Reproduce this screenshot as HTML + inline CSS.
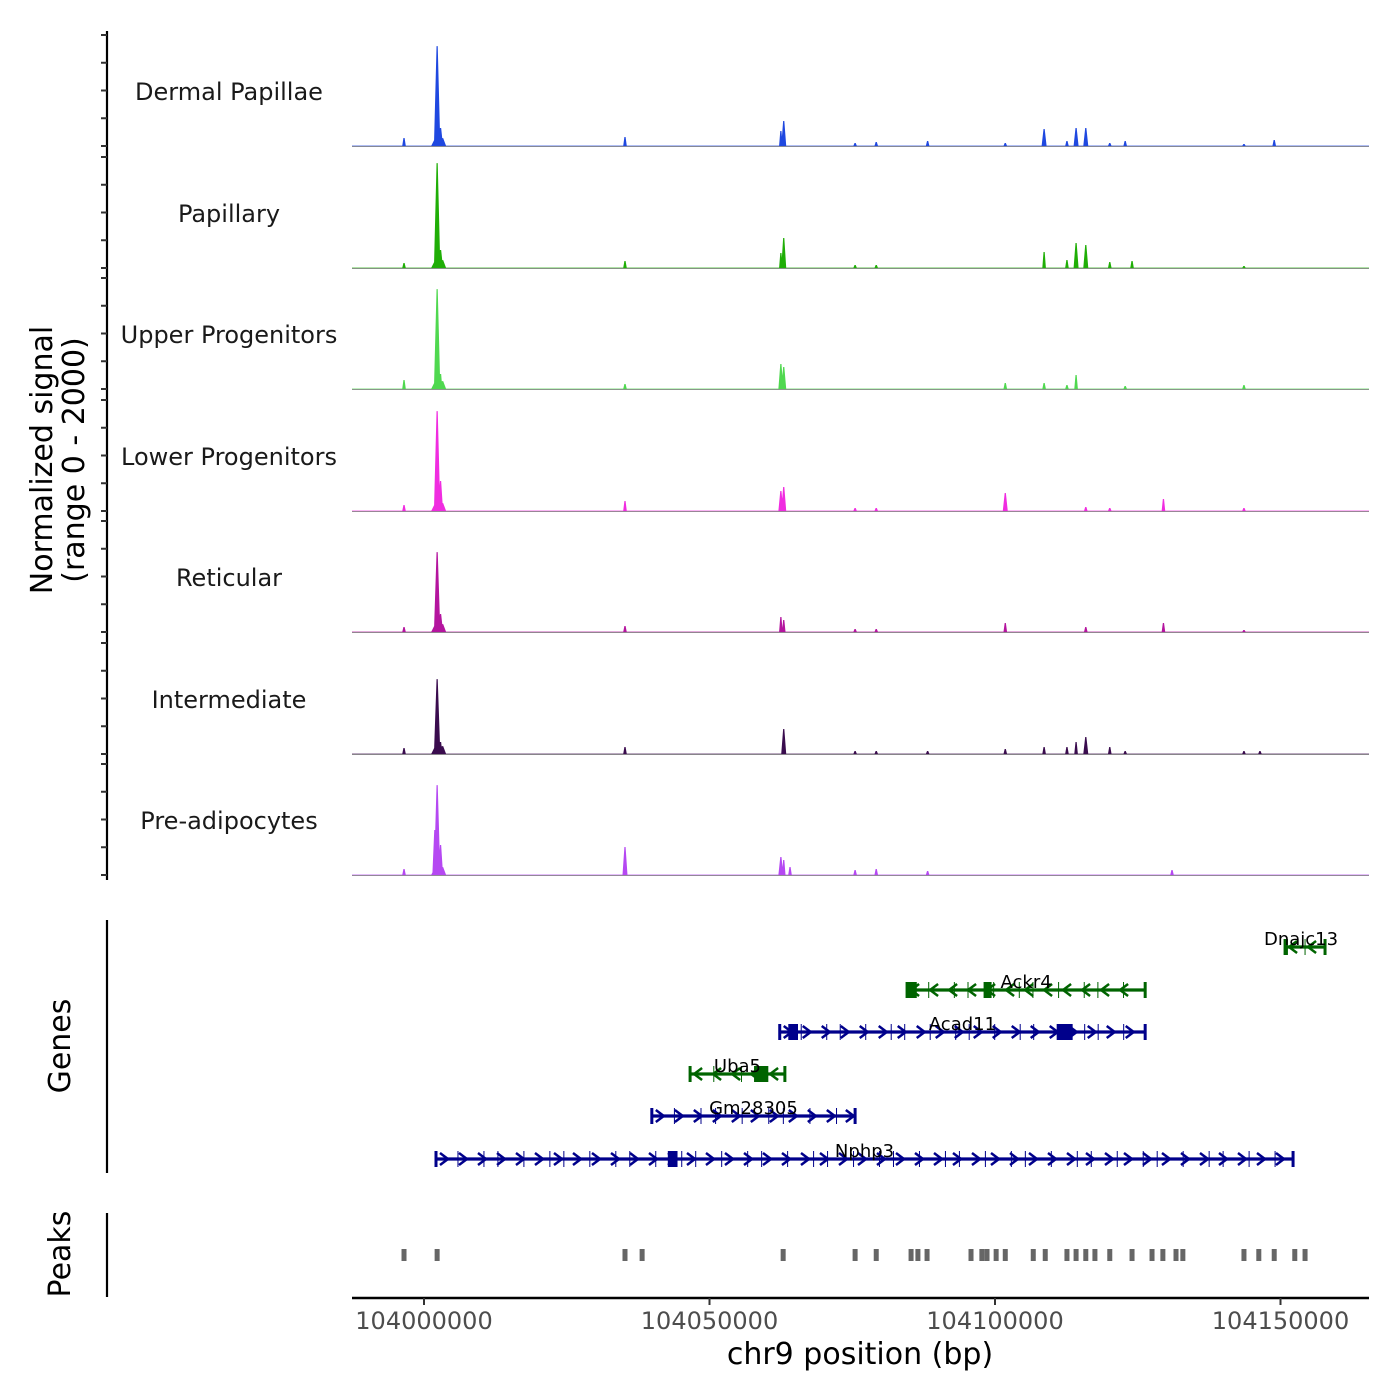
<!DOCTYPE html>
<html><head><meta charset="utf-8">
<style>
html,body{margin:0;padding:0;background:#fff;}
svg{display:block;font-family:"DejaVu Sans","Liberation Sans",sans-serif;}
</style></head>
<body>
<svg id="chart" width="1400" height="1400" viewBox="0 0 1400 1400" xmlns="http://www.w3.org/2000/svg">
<rect width="1400" height="1400" fill="#fff"/>
<g id="g"></g>
</svg>
<script>
// ---------- data ----------
const trackNames = ["Dermal Papillae","Papillary","Upper Progenitors","Lower Progenitors","Reticular","Intermediate","Pre-adipocytes"];
const trackColors = ["#1f48e0","#1fae06","#4fd84f","#f02ce0","#b4149e","#3a0c4e","#b548f2"];
const peakPos = [103996500,104001900,104002300,104002900,104035200,104062500,104063000,104064100,104075500,104079200,104088200,104101800,104108600,104112600,104114200,104115900,104120100,104122800,104124000,104129500,104131000,104143600,104146400,104148900];
const sigDermal = [144,0,1800,324,162,270,450,0,54,72,90,54,306,90,324,324,54,90,0,0,0,36,0,108];
const sigPapillary = [90,0,1890,324,126,270,540,0,54,54,0,0,288,144,450,414,108,0,126,0,0,36,0,0];
const sigUpper = [162,0,1800,270,90,450,396,0,0,0,0,108,108,72,252,0,0,54,0,0,0,72,0,0];
const sigLower = [108,0,1800,540,180,360,432,0,54,54,0,324,0,0,0,72,54,0,0,216,0,54,0,0];
const sigReticular = [90,0,1440,324,108,270,216,0,54,54,0,162,0,0,0,90,0,0,0,162,0,36,0,0];
const sigIntermediate = [108,0,1350,216,126,0,450,0,54,54,54,90,126,126,216,306,126,54,0,0,0,54,54,0];
const sigPreadipo = [108,810,1620,540,504,324,270,144,90,108,72,0,0,0,0,0,0,0,0,0,90,0,0,0];
const trackSignals = [sigDermal,sigPapillary,sigUpper,sigLower,sigReticular,sigIntermediate,sigPreadipo];

const geneNames = ["Dnajc13","Ackr4","Acad11","Uba5","Gm28305","Nphp3"];
const geneStart = [104150800,104084600,104062300,104046600,104039900,104002100];
const geneEnd = [104157800,104126300,104126300,104063200,104075500,104152200];
const geneStrand = [-1,-1,1,-1,1,1];
const geneBigExonStart = [104150800,104084600,104063800,104057800,0,104042700];
const geneBigExonEnd = [104151300,104086300,104065500,104060300,0,104044400];
const geneBigExon2Start = [0,104098000,104110800,0,0,0];
const geneBigExon2End = [0,104099400,104113600,0,0,0];

const atacPeaks = [103996500,104002300,104035200,104038200,104062900,104075500,104079200,104085300,104086500,104088100,104095800,104097700,104098600,104100200,104101800,104106700,104108800,104112600,104114200,104115900,104117500,104120100,104124000,104127500,104129400,104131700,104132900,104143600,104146200,104148900,104152500,104154300];

const xTicks = [104000000,104050000,104100000,104150000];

// ---------- scales ----------
const NS="http://www.w3.org/2000/svg";
const g=document.getElementById('g');
const X0=352, X1=1369;
function xs(bp){return 424+(bp-104000000)/50000*285.5;}
const baseY=[146,268,389,511,632,754,875];
const panelH=111;
function ys(i,v){return baseY[i]-v/2000*panelH;}
function el(tag,attrs,parent){const e=document.createElementNS(NS,tag);for(const k in attrs)e.setAttribute(k,attrs[k]);(parent||g).appendChild(e);return e;}

// ---------- left axes ----------
let a=el('line',{x1:107,y1:31,x2:107,y2:880,stroke:'#000','stroke-width':2.2});


for(let i=0;i<7;i++){
  for(let k=0;k<=4;k++){
    const y=ys(i,k*500);
    const t=el('line',{x1:101,y1:y,x2:107,y2:y,stroke:'#333','stroke-width':2});
    
    
  }
}
a=el('line',{x1:107,y1:920,x2:107,y2:1173,stroke:'#000','stroke-width':2.2});


a=el('line',{x1:107,y1:1213,x2:107,y2:1297,stroke:'#000','stroke-width':2.2});



let tt=el('text',{transform:'translate(52,460) rotate(-90)','text-anchor':'middle','font-size':30,fill:'#000'});
tt.textContent='Normalized signal';


tt=el('text',{transform:'translate(84,460) rotate(-90)','text-anchor':'middle','font-size':30,fill:'#000'});
tt.textContent='(range 0 - 2000)';


tt=el('text',{transform:'translate(70,1046) rotate(-90)','text-anchor':'middle','font-size':30,fill:'#000'});
tt.textContent='Genes';


tt=el('text',{transform:'translate(70,1254) rotate(-90)','text-anchor':'middle','font-size':30,fill:'#000'});
tt.textContent='Peaks';



// ---------- coverage tracks ----------
for(let i=0;i<7;i++){
  const lab=el('text',{x:229,y:baseY[i]-46,'text-anchor':'middle','font-size':24,fill:'#1a1a1a'});
  lab.textContent=trackNames[i];
  
  
  const sig=trackSignals[i];
  let d='';
  for(let j=0;j<peakPos.length;j++){
    if(!sig[j])continue;
    const x=xs(peakPos[j]);const y=ys(i,sig[j]);
    const w=sig[j]>1000?3.2:(sig[j]>300?2.5:1.8);
    d+=`M${x-w},${baseY[i]} L${x-0.6},${y} L${x+0.6},${y} L${x+w},${baseY[i]} Z `;
    if(sig[j]>1000){d+=`M${x-6},${baseY[i]} L${x-3},${baseY[i]-6} L${x+6},${baseY[i]-8} L${x+9},${baseY[i]} Z `;}
  }
  const p=el('path',{d:d,fill:trackColors[i]});
  
  
  const bl=el('line',{x1:X0,y1:baseY[i],x2:X1,y2:baseY[i],stroke:trackColors[i],'stroke-width':1,opacity:0.7});
  
  
  const bl2=el('line',{x1:X0,y1:baseY[i]+0.5,x2:X1,y2:baseY[i]+0.5,stroke:'#777','stroke-width':0.8});
  
  
}

// ---------- genes ----------
const geneRowY=[947,990,1032,1074,1116,1159];
for(let i=0;i<geneNames.length;i++){
  const col=geneStrand[i]>0?'#00008b':'#006400';
  const y=geneRowY[i];
  const x1=xs(geneStart[i]),x2=xs(geneEnd[i]);
  const grp=el('g',{});
  
  
  el('line',{x1:x1,y1:y,x2:x2,y2:y,stroke:col,'stroke-width':3.2},grp);
  el('line',{x1:x1,y1:y-8,x2:x1,y2:y+8,stroke:col,'stroke-width':3},grp);
  el('line',{x1:x2,y1:y-8,x2:x2,y2:y+8,stroke:col,'stroke-width':3},grp);
  let cd='';
  for(let x=x1+8;x<x2-4;x+=19){
    const s=geneStrand[i]*4;
    cd+=`M${x-s},${y-6} L${x+s},${y} L${x-s},${y+6} `;
  }
  el('path',{d:cd,fill:'none',stroke:col,'stroke-width':2.5},grp);
  let ed='';
  const n=Math.max(2,Math.round((x2-x1)/22));
  for(let k=1;k<n;k++){
    const x=x1+(x2-x1)*k/n + ((k%3)-1)*4;
    ed+=`M${x},${y-8} L${x},${y+8} `;
  }
  el('path',{d:ed,fill:'none',stroke:col,'stroke-width':1},grp);
  if(geneBigExonStart[i]){
    const bx=xs(geneBigExonStart[i]),bw=xs(geneBigExonEnd[i])-bx;
    el('rect',{x:bx,y:y-8,width:bw,height:16,fill:col},grp);
  }
  if(geneBigExon2Start[i]){
    const bx=xs(geneBigExon2Start[i]),bw=xs(geneBigExon2End[i])-bx;
    el('rect',{x:bx,y:y-8,width:bw,height:16,fill:col},grp);
  }
  const lab=el('text',{x:(x1+x2)/2+(i==0?-4:0),y:y-2,'text-anchor':'middle','font-size':18,fill:'#000'},grp);
  lab.textContent=geneNames[i];
  
  
}

// ---------- peaks ----------
for(const p of atacPeaks){
  const r=el('rect',{x:xs(p)-2.5,y:1249,width:5,height:12,fill:'#666'});
  
  
}

// ---------- x axis ----------
a=el('line',{x1:X0,y1:1298,x2:X1,y2:1298,stroke:'#000','stroke-width':2.5});


for(const t of xTicks){
  const x=xs(t);
  const tk=el('line',{x1:x,y1:1298,x2:x,y2:1305,stroke:'#333','stroke-width':2});
  
  
  const tl=el('text',{x:x,y:1329,'text-anchor':'middle','font-size':24,fill:'#4d4d4d'});
  tl.textContent=String(t);
  
  
}
tt=el('text',{x:860,y:1364,'text-anchor':'middle','font-size':30,fill:'#000'});
tt.textContent='chr9 position (bp)';


</script>
</body></html>
